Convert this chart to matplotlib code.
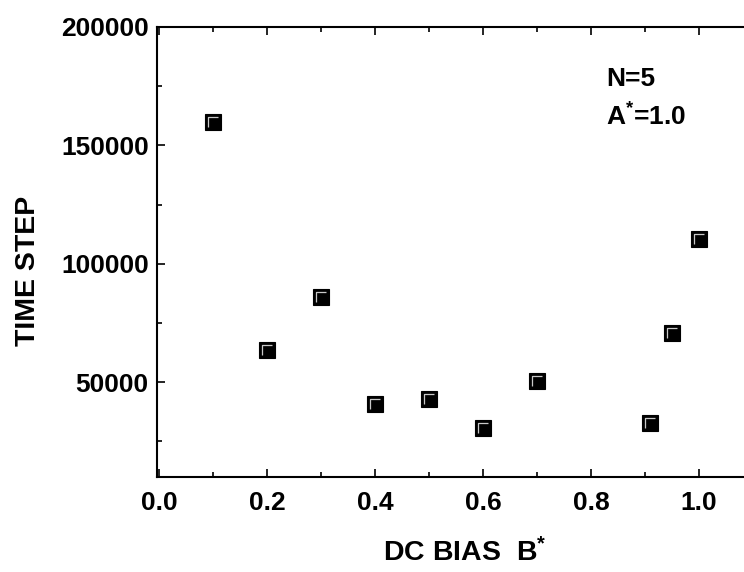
import matplotlib
matplotlib.use('Agg')
import matplotlib.pyplot as plt
from matplotlib.ticker import MultipleLocator, FormatStrFormatter

plt.rcParams['font.family'] = ['Liberation Sans', 'DejaVu Sans']
plt.rcParams['font.weight'] = 'bold'
plt.rcParams['mathtext.fontset'] = 'custom'
plt.rcParams['mathtext.rm'] = 'Liberation Sans:bold'
plt.rcParams['mathtext.bf'] = 'Liberation Sans:bold'
plt.rcParams['mathtext.it'] = 'Liberation Sans:bold'
plt.rcParams['xtick.top'] = True
plt.rcParams['xtick.direction'] = 'in'
plt.rcParams['ytick.direction'] = 'in'

# DC bias B* vs time step (N=5, A*=1.0)
bias = [0.1, 0.2, 0.3, 0.4, 0.5, 0.6, 0.7, 0.91, 0.95, 1.0]
steps = [160000, 63500, 86200, 40700, 42800, 30600, 50400, 32700, 70600, 110700]

fig = plt.figure(figsize=(7.44, 5.72), dpi=100)
ax = fig.add_axes([157/744, 1-477/572, (753-157)/744, 450/572])

ax.plot(bias, steps, ls='none', marker='s', ms=11, mfc='black', mec='black', mew=0.8)
# light highlight on the top-left of each square (Origin style)
ax.plot(bias, steps, ls='none', marker=[(-1, -1), (-1, 1), (1, 1)], ms=7.2,
        mfc='none', mec='#c8c8c8', mew=0.9)

ax.set_xlim(-0.004, 1.1)
ax.set_ylim(10000, 200000)
ax.xaxis.set_major_locator(MultipleLocator(0.2))
ax.xaxis.set_minor_locator(MultipleLocator(0.1))
ax.yaxis.set_major_locator(MultipleLocator(50000))
ax.yaxis.set_minor_locator(MultipleLocator(25000))
ax.xaxis.set_major_formatter(FormatStrFormatter('%.1f'))

for s in ax.spines.values():
    s.set_linewidth(1.5)
ax.tick_params(axis='both', which='major', length=6, width=1.2, labelsize=19)
ax.tick_params(axis='both', which='minor', length=3.5, width=1.2)
ax.tick_params(axis='x', which='major', pad=10)
ax.tick_params(axis='y', which='major', pad=6)
ax.tick_params(axis='y', which='both', right=False)

ax.set_xlabel(r'DC BIAS  $\mathbf{B^{*}}$', fontsize=20.5, fontweight='bold')
ax.xaxis.set_label_coords(0.517, -0.135)
ax.set_ylabel('TIME STEP', fontsize=20.5, fontweight='bold')
ax.yaxis.set_label_coords(-0.195, 0.458)

fig.text(606/744, 1-86/572, 'N=5', fontsize=19, fontweight='bold')
fig.text(606/744, 1-126/572, r'$\mathbf{A^{*}}$=1.0', fontsize=19, fontweight='bold')

fig.savefig('out.png', dpi=100)
